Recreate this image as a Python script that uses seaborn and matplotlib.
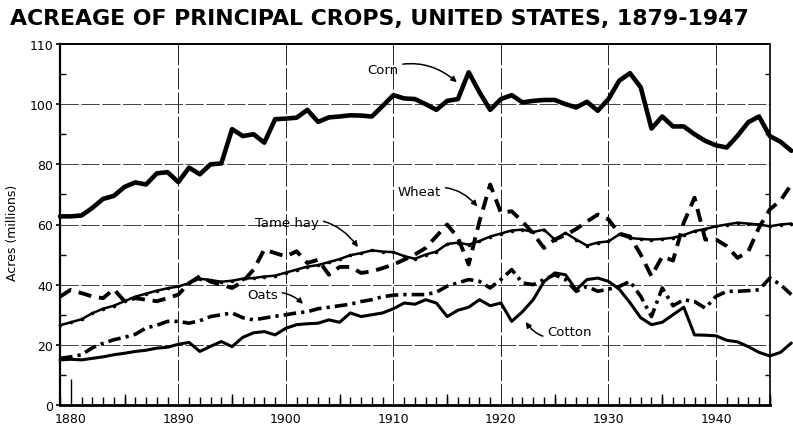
import matplotlib
matplotlib.use("Agg")
import matplotlib.pyplot as plt
import seaborn as sns
import numpy as np

years = list(range(1879, 1948))

corn = [62.7, 62.7, 63.0, 65.5, 68.5, 69.5, 72.5, 74.0, 73.3, 77.0,
        77.4, 74.1, 78.9, 76.7, 80.0, 80.3, 91.7, 89.4, 90.0, 87.2,
        95.0, 95.2, 95.5, 98.1, 94.1, 95.6, 95.9, 96.3, 96.2, 95.9,
        99.4, 103.0, 101.9, 101.7, 100.0, 98.1, 101.1, 101.7, 110.6, 104.0,
        98.1, 101.7, 103.0, 100.6, 101.1, 101.4, 101.4, 100.0, 98.9, 100.8,
        97.8, 101.7, 107.8, 110.3, 105.6, 91.9, 95.9, 92.6, 92.6, 90.0,
        87.8, 86.3, 85.6, 89.5, 94.0, 95.9, 89.4, 87.5, 84.5]

tame_hay = [26.5, 27.5, 28.5, 30.5, 32.0, 33.0, 34.5, 36.0, 37.0, 38.0,
            38.8, 39.4, 40.5, 42.0, 41.5, 41.0, 41.3, 42.0, 42.2, 42.7,
            43.0, 44.0, 45.0, 46.0, 46.5, 47.5, 48.5, 49.8, 50.5, 51.4,
            51.0, 50.8, 49.5, 48.6, 50.0, 51.0, 53.5, 54.0, 53.3, 54.5,
            56.0, 57.0, 58.0, 58.3, 57.5, 58.3, 55.0, 57.2, 55.0, 53.0,
            54.0, 54.4, 56.7, 55.5, 55.2, 55.0, 55.2, 55.6, 56.5, 57.8,
            58.5, 59.4, 60.0, 60.6, 60.3, 60.0, 59.4, 60.0, 60.3]

wheat = [36.0, 38.3, 37.2, 36.1, 35.5, 38.5, 34.5, 35.5, 35.0, 34.5,
         35.5, 36.7, 40.5, 42.8, 41.0, 40.0, 38.9, 41.0, 45.0, 51.7,
         50.5, 49.4, 51.1, 47.2, 48.3, 43.3, 45.9, 45.9, 43.9, 44.4,
         45.5, 46.7, 48.3, 50.0, 52.2, 56.1, 60.0, 55.6, 46.7, 61.0,
         73.3, 63.9, 64.4, 61.0, 57.0, 52.2, 55.0, 56.5, 58.5, 61.0,
         63.3, 61.7, 57.0, 56.0, 50.0, 42.8, 49.4, 48.0, 60.6, 68.9,
         55.0, 55.0, 52.8, 48.9, 51.0, 59.0, 65.0, 68.0, 73.3]

oats = [15.5, 16.0, 16.7, 19.0, 20.5, 21.7, 22.5, 23.5, 25.6, 26.5,
        27.8, 27.8, 27.2, 28.0, 29.4, 30.0, 30.6, 29.0, 28.3, 28.9,
        29.5, 30.0, 30.6, 31.0, 32.0, 32.5, 33.0, 33.5, 34.4, 35.0,
        36.0, 36.5, 36.7, 36.7, 36.7, 37.5, 39.5, 40.6, 41.7, 41.1,
        38.9, 41.7, 45.0, 40.6, 40.0, 41.7, 43.3, 41.7, 37.8, 39.4,
        37.8, 38.5, 39.4, 41.1, 36.1, 29.4, 38.9, 33.0, 35.0, 34.4,
        32.2, 36.1, 37.8, 37.8, 38.0, 38.3, 42.2, 40.0, 36.7]

cotton = [15.0, 15.2, 15.0, 15.5, 16.0, 16.7, 17.2, 17.8, 18.2, 18.9,
          19.2, 20.2, 20.8, 17.8, 19.5, 21.1, 19.4, 22.5, 24.0, 24.4,
          23.3, 25.5, 26.7, 27.0, 27.2, 28.3, 27.5, 30.6, 29.4, 30.0,
          30.6, 32.0, 33.9, 33.5, 35.0, 33.9, 29.4, 31.5, 32.5, 35.0,
          33.0, 33.9, 27.8, 31.0, 35.0, 41.0, 43.9, 43.3, 38.3, 41.7,
          42.2, 41.1, 38.5, 34.0, 29.0, 26.7, 27.5, 30.0, 32.5, 23.3,
          23.2, 23.0, 21.5, 21.0, 19.4, 17.5, 16.3, 17.5, 20.6]

decade_ticks = [1880, 1890, 1900, 1910, 1920, 1930, 1940]
decade_labels = ["1880", "1890", "1900", "1910", "1920", "1930", "1940"]
y_ticks = [0, 20, 40, 60, 80, 100, 120]
y_labels = ["0", "20", "40", "60", "80", "100", "110"]

sns.set_theme(style="white")
plt.rcParams["font.family"] = ["DejaVu Sans"]

fig = plt.figure(figsize=(7.93, 4.31), dpi=100)
ax = fig.add_axes([60 / 793, 25 / 431, 731.3 / 793, 361 / 431])
ax.set_xlim(1879, 1947)
ax.set_ylim(0, 120)

FRAME_END = 1945
# grid lines
ax.hlines([20, 40, 60, 80, 100], 1879, FRAME_END, color="#222222", lw=0.6,
          linestyles=(0, (22, 3)), zorder=1)
ax.vlines(decade_ticks[1:], 0, 120, color="#222222", lw=0.7,
          linestyles=(0, (22, 3)), zorder=1)
# frame
ax.plot([1879, FRAME_END], [120, 120], color="black", lw=1.4, clip_on=False)
ax.plot([FRAME_END, FRAME_END], [0, 120], color="black", lw=1.2, clip_on=False)
for s in ["top", "right"]:
    ax.spines[s].set_visible(False)
for s in ["left", "bottom"]:
    ax.spines[s].set_color("black")
ax.spines["left"].set_linewidth(1.6)
ax.spines["bottom"].set_linewidth(2.0)
ax.spines["bottom"].set_bounds(1879, FRAME_END)

# tick marks
ax.set_xticks(decade_ticks)
ax.set_xticklabels(decade_labels, fontsize=9)
ax.set_xticks(list(range(1879, FRAME_END + 1)), minor=True)
ax.tick_params(axis="x", which="major", length=0, pad=5, colors="black")
ax.tick_params(axis="x", which="minor", direction="in", length=6, width=1.0,
               colors="black", bottom=True)
ax.vlines([1885, 1895, 1905, 1915, 1925, 1935, 1945], 0, 3.6, color="black", lw=1.0)
ax.vlines([1880], 0, 8.5, color="black", lw=1.0)

ax.set_yticks(y_ticks)
ax.set_yticklabels(y_labels, fontsize=9)
ax.set_yticks(list(range(10, 120, 20)), minor=True)
ax.tick_params(axis="y", which="major", direction="out", length=3, width=1.2,
               colors="black", left=True, pad=2)
ax.tick_params(axis="y", which="minor", direction="in", length=4, width=1.0,
               colors="black", left=True)
ax.hlines(list(range(10, 120, 20)), FRAME_END - 0.4, FRAME_END, color="black", lw=1.0)

ax.set_ylabel("Acres (millions)", fontsize=9, color="black")
ax.yaxis.set_label_coords(-0.056, 0.48)

# data lines
sns.lineplot(x=years, y=corn, ax=ax, color="black", linewidth=3.3,
             estimator=None, sort=False)
sns.lineplot(x=years, y=tame_hay, ax=ax, color="black", linewidth=1.8,
             marker="o", markersize=2.6, markeredgewidth=0,
             estimator=None, sort=False)
sns.lineplot(x=years, y=wheat, ax=ax, color="black", linewidth=2.8,
             estimator=None, sort=False)
ax.lines[-1].set_dashes((3.4, 2.0))
sns.lineplot(x=years, y=oats, ax=ax, color="black", linewidth=2.6,
             estimator=None, sort=False)
ax.lines[-1].set_dashes((3.5, 1.4, 0.9, 1.4))
sns.lineplot(x=years, y=cotton, ax=ax, color="black", linewidth=2.2,
             estimator=None, sort=False)
for ln in ax.lines:
    ln.set_clip_on(False)
    ln.set_solid_capstyle("round")

# labels with arrows
arrow = dict(arrowstyle="-|>", color="black", lw=1.1, mutation_scale=8,
             shrinkA=1, shrinkB=0)
def lab(text, xy, xytext, rad, ha="center"):
    ap = dict(arrow)
    ap["connectionstyle"] = f"arc3,rad={rad}"
    ax.annotate(text, xy=xy, xytext=xytext, ha=ha, va="center", fontsize=9.5,
                color="black", arrowprops=ap)

lab("Corn", (1915.9, 107.3), (1909.0, 111.6), -0.3)
lab("Wheat", (1917.8, 66.0), (1912.4, 71.0), -0.35)
lab("Tame hay", (1906.7, 52.5), (1900.1, 60.7), -0.35)
lab("Oats", (1901.6, 33.6), (1897.8, 36.7), -0.3)
lab("Cotton", (1922.3, 27.6), (1926.4, 24.3), -0.45)

fig.text(0.013, 0.957, "ACREAGE OF PRINCIPAL CROPS, UNITED STATES, 1879-1947",
         fontsize=15.8, fontweight="bold", ha="left", va="center", color="black")

fig.savefig("out.png", dpi=100, facecolor="white")
